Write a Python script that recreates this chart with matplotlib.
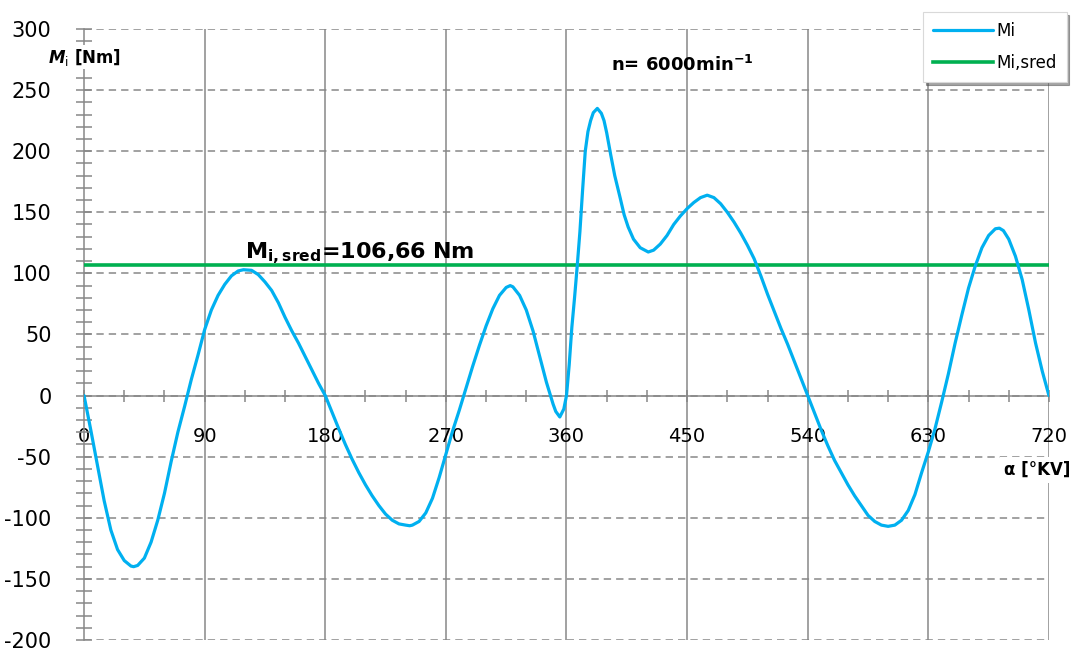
#!/usr/bin/env python3
# coding: utf-8

import matplotlib
matplotlib.use('Agg')
import matplotlib.pyplot as plt
from matplotlib.ticker import MultipleLocator

# crank angle [deg] and indicated torque Mi [Nm]
alpha = [0, 5, 10, 15, 20, 25, 30, 35, 37, 40, 45, 50, 55, 60, 65, 70, 75, 80,
         85, 90, 95, 100, 105, 110, 115, 119, 125, 130, 135, 140, 145, 150, 155,
         160, 165, 170, 175, 180, 185, 190, 195, 200, 205, 210, 215, 220, 225,
         230, 235, 240, 243, 245, 250, 255, 260, 265, 270, 275, 280, 285, 290,
         295, 300, 305, 310, 315, 318, 320, 325, 330, 335, 340, 345, 350, 352,
         355, 358, 360, 362, 364, 366, 368, 370, 372, 374, 376, 378, 380, 383,
         386, 388, 390, 393, 396, 400, 403, 406, 410, 415, 421, 425, 430, 435,
         440, 445, 450, 455, 460, 465, 470, 475, 480, 485, 490, 495, 500, 505,
         510, 515, 520, 525, 530, 535, 540, 545, 550, 555, 560, 565, 570, 575,
         580, 585, 590, 595, 600, 605, 610, 615, 620, 625, 630, 635, 640, 645,
         650, 655, 660, 665, 670, 675, 680, 683, 686, 690, 695, 700, 705, 710,
         715, 720]
mi = [0, -28, -57, -86, -110, -126, -135, -139.5, -140, -139, -133, -120, -102,
      -80, -54, -30, -9, 13, 33, 54, 70, 82, 91, 98, 102, 103, 102.5, 99, 93,
      86, 76, 64, 53, 43, 32, 21, 10, 0, -13.5, -27, -40, -52, -63, -73, -82,
      -90, -97, -102, -105, -106, -106.5, -106, -103, -96, -84, -67, -48, -29,
      -12, 6, 24, 41, 57, 71, 82, 88.5, 90, 89, 82, 70, 53, 32, 11, -7, -13,
      -17.5, -11, 0, 25, 56, 80, 106, 134, 168, 200, 216, 225, 231.5, 235,
      231, 225, 215, 197, 180, 162, 148, 138, 128, 121, 117.5, 119, 124, 131,
      140, 147, 153, 158, 162, 164, 162, 157, 150, 142, 133, 123, 112, 98,
      83, 69, 55, 42, 28, 14, 0, -14, -28, -41, -53, -63, -73, -82,
      -90, -98, -103, -106, -107, -106, -102, -94, -81, -63, -46, -27, -5, 18,
      43, 66, 88, 106, 121, 131, 136.5, 137, 135, 128, 114, 95, 70, 43,
      20, 0]
mi_sred = 106.66

xticks = [0, 90, 180, 270, 360, 450, 540, 630, 720]
yticks = [-200, -150, -100, -50, 0, 50, 100, 150, 200, 250, 300]

GRID = '#878787'
BLUE = '#00B0F0'
GREEN = '#00B050'

plt.rcParams['font.family'] = 'DejaVu Sans'
plt.rcParams['axes.unicode_minus'] = False
plt.rcParams['mathtext.fontset'] = 'custom'
plt.rcParams['mathtext.it'] = 'DejaVu Sans:bold:italic'
plt.rcParams['mathtext.rm'] = 'DejaVu Sans'
plt.rcParams['mathtext.bf'] = 'DejaVu Sans:bold'

fig = plt.figure(figsize=(10.72, 6.51), dpi=100)
ax = fig.add_axes([0.0784, 0.0169, 0.9001, 0.9386])

ax.set_xlim(0, 720)
ax.set_ylim(-200, 300)

# grid: solid verticals, dashed horizontals
for x in xticks[1:]:
    ax.axvline(x, color=GRID, lw=1.1, zorder=1)
for y in yticks:
    ax.axhline(y, color=GRID, lw=1.1, dashes=(4.8, 3.3), zorder=1)

ax.plot(alpha, mi, color=BLUE, lw=2.3, label='Mi', zorder=4,
        solid_capstyle='round', solid_joinstyle='round')
ax.plot([0, 720], [mi_sred, mi_sred], color=GREEN, lw=2.6, label='Mi,sred', zorder=3)

for s in ['top', 'right']:
    ax.spines[s].set_visible(False)
ax.spines['bottom'].set_position(('data', 0))
ax.spines['bottom'].set_color(GRID)
ax.spines['bottom'].set_linewidth(1.1)
ax.spines['left'].set_color(GRID)
ax.spines['left'].set_linewidth(1.1)

ax.set_xticks(xticks)
ax.xaxis.set_minor_locator(MultipleLocator(30))
ax.set_yticks(yticks)
ax.yaxis.set_minor_locator(MultipleLocator(10))
ax.tick_params(axis='x', which='both', direction='inout', length=9, width=1.1,
               color=GRID, labelsize=14, pad=18)
ax.tick_params(axis='y', which='both', direction='inout', length=11, width=1.1,
               color=GRID, labelsize=15, pad=18)

ax.text(0, 277, r'$M_{\mathrm{i}}$ [Nm]', ha='center', va='center', fontsize=12,
        fontweight='bold', zorder=5,
        bbox=dict(facecolor='white', edgecolor='none', pad=1))
ax.text(120, 112, r'$\mathbf{M_{i,sred}}$=106,66 Nm', ha='left', va='baseline',
        fontsize=16, fontweight='bold', zorder=5)
ax.text(393, 266, r'n= 6000min$^{\mathbf{-1}}$', ha='left', va='baseline',
        fontsize=13, fontweight='bold', zorder=5)
ax.text(711, -61, r'α [°KV]', ha='center', va='center', fontsize=12,
        fontweight='bold', zorder=5, clip_on=False,
        bbox=dict(facecolor='white', edgecolor='none', pad=3))

leg = fig.legend(loc='upper left', bbox_to_anchor=(923 / 1072, 1 - 12 / 651),
                 fontsize=12, frameon=True, fancybox=False, shadow=True,
                 handlelength=3.6, borderpad=0.6, labelspacing=0.85,
                 handletextpad=0.2, borderaxespad=0)
leg.get_frame().set_edgecolor('#d9d9d9')
leg.get_frame().set_linewidth(0.8)

plt.savefig('out.png', dpi=100)
